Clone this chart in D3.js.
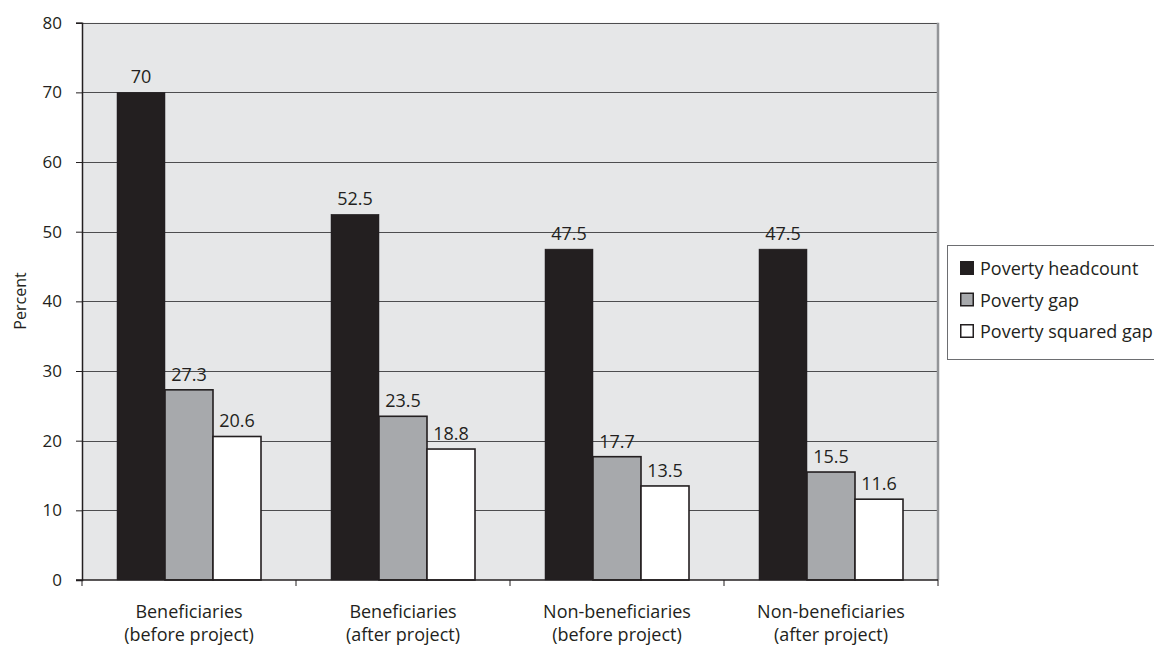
<!DOCTYPE html>
<html><head><meta charset="utf-8">
<script src="https://cdn.jsdelivr.net/npm/d3@7"></script>
<style>body{margin:0;background:#fff}svg{display:block}text{font-family:"Open Sans","Noto Sans",sans-serif;fill:#231f20}</style>
</head><body><svg id="c" width="1154" height="648"></svg>
<script>
const categories = [["Beneficiaries","(before project)"],["Beneficiaries","(after project)"],["Non-beneficiaries","(before project)"],["Non-beneficiaries","(after project)"]];
const seriesNames = ["Poverty headcount","Poverty gap","Poverty squared gap"];
const headcount = [70, 52.5, 47.5, 47.5];
const gap = [27.3, 23.5, 17.7, 15.5];
const squaredGap = [20.6, 18.8, 13.5, 11.6];
const labelText = [["70","52.5","47.5","47.5"],["27.3","23.5","17.7","15.5"],["20.6","18.8","13.5","11.6"]];
const yTicks = [0,10,20,30,40,50,60,70,80];
const colors = ["#231f20","#a7a9ac","#ffffff"];

const series = [headcount, gap, squaredGap];
const FONT = '"Open Sans","Noto Sans",sans-serif';
const svg = d3.select("#c");
const L = 82, R = 938, T = 22.7, B = 580;
const x0 = d3.scaleBand().domain(d3.range(categories.length)).range([L, R]).paddingInner(0).paddingOuter(0);
const groupPad = 35;
const x1 = d3.scaleBand().domain(d3.range(3)).range([groupPad, x0.bandwidth() - groupPad]).padding(0);
const y = d3.scaleLinear().domain([0, 80]).range([B, T]);

svg.append("rect").attr("x", L).attr("y", T).attr("width", R - L).attr("height", B - T).attr("fill", "#e6e7e8");
// gridlines
svg.append("g").selectAll("line").data(yTicks.filter(d => d > 0)).join("line")
  .attr("x1", L).attr("x2", R).attr("y1", d => Math.round(y(d)) + 0.5).attr("y2", d => Math.round(y(d)) + 0.5)
  .attr("stroke", "#4d4d4f").attr("stroke-width", 1);
// right border
svg.append("line").attr("x1", R).attr("x2", R).attr("y1", T).attr("y2", B).attr("stroke", "#939598").attr("stroke-width", 2.5);

// bars
const g = svg.append("g");
series.forEach((vals, si) => {
  g.selectAll(null).data(vals).join("rect")
    .attr("x", (d, i) => x0(i) + x1(si))
    .attr("y", d => y(d))
    .attr("width", x1.bandwidth())
    .attr("height", d => B - y(d))
    .attr("fill", colors[si])
    .attr("stroke", "#231f20").attr("stroke-width", si === 0 ? 0.5 : 1.6);
  g.selectAll(null).data(vals).join("text")
    .attr("x", (d, i) => x0(i) + x1(si) + x1.bandwidth() / 2)
    .attr("y", d => y(d) - 9)
    .attr("text-anchor", "middle").attr("font-size", 18)
    .text((d, i) => labelText[si][i]);
});

// y axis
const yAxis = d3.axisLeft(y).tickValues(yTicks).tickSize(6).tickPadding(14);
const ya = svg.append("g").attr("transform", `translate(${L},0)`).call(yAxis);
ya.select(".domain").attr("stroke", "#231f20").attr("stroke-width", 1.5);
ya.selectAll(".tick line").attr("stroke", "#231f20");
ya.selectAll(".tick text").attr("font-size", 17).attr("fill", "#231f20").attr("font-family", FONT);

// x axis
svg.append("line").attr("x1", L - 6).attr("x2", R).attr("y1", B).attr("y2", B).attr("stroke", "#231f20").attr("stroke-width", 1.5);
svg.append("g").selectAll("line").data(d3.range(categories.length + 1)).join("line")
  .attr("x1", i => L + i * x0.bandwidth()).attr("x2", i => L + i * x0.bandwidth())
  .attr("y1", B).attr("y2", B + 6).attr("stroke", "#231f20");
const xl = svg.append("g").selectAll("text").data(categories).join("text")
  .attr("text-anchor", "middle").attr("font-size", 18)
  .attr("transform", (d, i) => `translate(${x0(i) + x0.bandwidth() / 2},0)`);
xl.append("tspan").attr("x", 0).attr("y", 618).text(d => d[0]);
xl.append("tspan").attr("x", 0).attr("y", 641).text(d => d[1]);

svg.append("text").attr("transform", "translate(26,301) rotate(-90)").attr("text-anchor", "middle").attr("font-size", 16).text("Percent");

// legend
svg.append("rect").attr("x", 947.5).attr("y", 245.5).attr("width", 210).attr("height", 114).attr("fill", "#fff").attr("stroke", "#6d6e71");
const lg = svg.append("g").selectAll("g").data(seriesNames).join("g")
  .attr("transform", (d, i) => `translate(960,${275 + i * 31.5})`);
lg.append("rect").attr("x", 0.75).attr("y", -13.25).attr("width", 12.5).attr("height", 12.5)
  .attr("fill", (d, i) => colors[i]).attr("stroke", "#231f20").attr("stroke-width", 1.5);
lg.append("text").attr("x", 20).attr("y", 0).attr("font-size", 18).text(d => d);
</script></body></html>
